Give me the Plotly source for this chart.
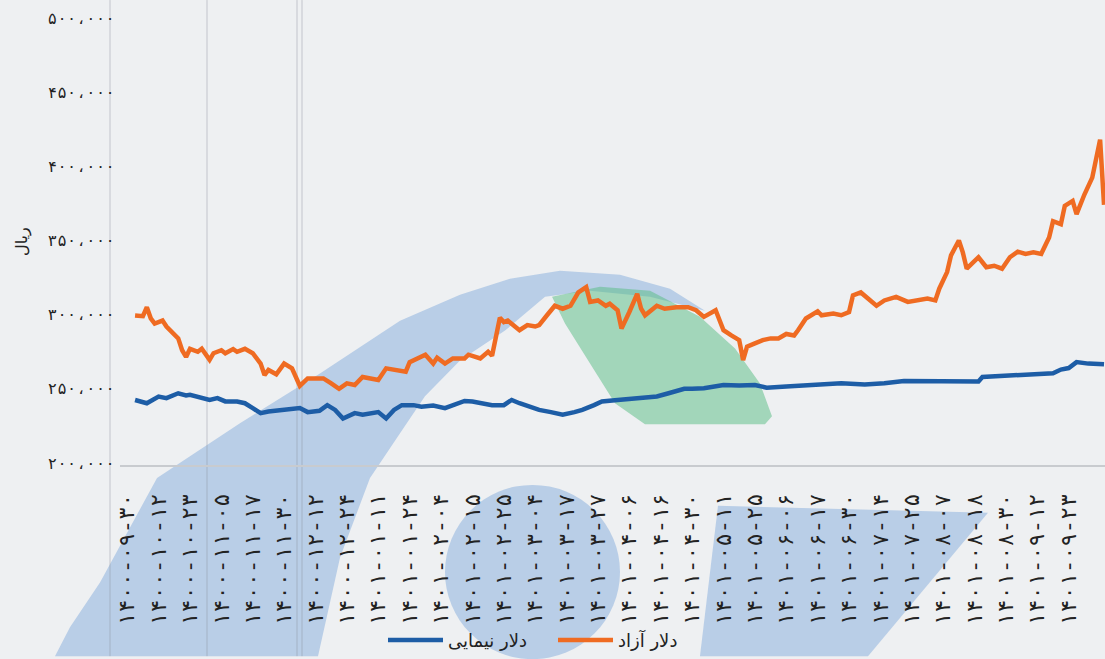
import plotly.graph_objects as go

# ---------------- data ----------------
tick_labels = ["۱۴۰۰-۰۹-۳۰", "۱۴۰۰-۱۰-۱۲", "۱۴۰۰-۱۰-۲۳", "۱۴۰۰-۱۱-۰۵", "۱۴۰۰-۱۱-۱۷",
               "۱۴۰۰-۱۱-۳۰", "۱۴۰۰-۱۲-۱۲", "۱۴۰۰-۱۲-۲۴", "۱۴۰۱-۰۱-۱۱", "۱۴۰۱-۰۱-۲۴",
               "۱۴۰۱-۰۲-۰۴", "۱۴۰۱-۰۲-۱۵", "۱۴۰۱-۰۲-۲۵", "۱۴۰۱-۰۳-۰۴", "۱۴۰۱-۰۳-۱۷",
               "۱۴۰۱-۰۳-۲۷", "۱۴۰۱-۰۴-۰۶", "۱۴۰۱-۰۴-۱۶", "۱۴۰۱-۰۴-۳۰", "۱۴۰۱-۰۵-۱۱",
               "۱۴۰۱-۰۵-۲۵", "۱۴۰۱-۰۶-۰۶", "۱۴۰۱-۰۶-۱۷", "۱۴۰۱-۰۶-۳۰", "۱۴۰۱-۰۷-۱۴",
               "۱۴۰۱-۰۷-۲۵", "۱۴۰۱-۰۸-۰۷", "۱۴۰۱-۰۸-۱۸", "۱۴۰۱-۰۸-۳۰", "۱۴۰۱-۰۹-۱۲",
               "۱۴۰۱-۰۹-۲۳"]
tick_positions = [0, 8, 16, 24, 32, 40, 48, 56, 64, 72, 80, 88, 96, 104, 112, 120,
                  128, 136, 144, 152, 160, 168, 176, 184, 192, 200, 208, 216, 224, 232, 240]

y_tick_values = [200000, 250000, 300000, 350000, 400000, 450000, 500000]
y_tick_labels = ["۲۰۰،۰۰۰", "۲۵۰،۰۰۰", "۳۰۰،۰۰۰", "۳۵۰،۰۰۰", "۴۰۰،۰۰۰", "۴۵۰،۰۰۰", "۵۰۰،۰۰۰"]

# free-market dollar (دلار آزاد), thousand rials, by trading-day index
free_idx = [2, 4, 5, 6, 7, 9, 10, 12, 13, 14, 15, 16, 18, 19, 21, 22, 24, 25, 27, 28,
            30, 32, 33, 34, 35, 36, 38, 40, 42, 43, 44, 46, 49, 50, 52, 54, 56, 58, 60, 63,
            64, 66, 69, 71, 72, 74, 76, 78, 79, 81, 83, 86, 87, 90, 92, 93, 94, 95, 96, 97,
            100, 102, 104, 105, 107, 109, 111, 113, 115, 117, 118, 120, 122, 123, 125, 126, 128, 130, 131, 132,
            135, 137, 140, 143, 145, 147, 150, 151, 152, 154, 156, 157, 158, 160, 162, 164, 166, 168, 170, 171,
            173, 176, 177, 180, 182, 184, 185, 187, 189, 191, 193, 196, 199, 202, 204, 206, 207, 209, 210, 212,
            213, 214, 217, 219, 221, 223, 225, 227, 229, 231, 233, 235, 236, 238, 239, 241, 242, 244, 246, 248,
            249]
free_val = [299.5, 299, 305, 297.5, 294, 296, 292, 286, 284, 276, 271.5, 277, 275, 277, 269.5, 274, 276, 274, 276.8, 275,
            277, 274, 270.5, 267, 259.3, 262.7, 259.8, 267, 263.8, 257, 252, 257, 257.5, 257, 253.7, 250, 253.7, 252.6, 258, 256,
            256, 263.8, 262.7, 261.6, 268, 270.5, 273, 267, 271, 267, 270.5, 270.5, 273, 270.5, 275, 272.3, 285, 298, 295, 296,
            289.5, 293, 292, 293, 299.6, 306, 304, 306, 315, 318.6, 308.6, 309.6, 306, 307.4, 303, 290.6, 301.8, 314, 304, 299.6,
            306, 304, 305, 305, 303, 298.5, 303, 296, 289.5, 286, 282.8, 269.4, 278.4, 280.6, 282.8, 284, 284, 287, 286, 289.5,
            297.4, 302.3, 299.6, 300.7, 299.6, 301.8, 313, 315, 310.8, 306, 309.6, 312, 308.6, 309.6, 310.8, 309.6, 317.5, 328.7, 340, 350,
            342, 331, 338.7, 332, 333, 331, 338.7, 342.5, 341, 342, 341, 352, 363, 361, 373.4, 376.7, 367.8, 381, 392.4, 418,
            374]

# NIMA dollar (دلار نیمایی), thousand rials
nima_idx = [2, 5, 8, 10, 13, 15, 16, 19, 21, 23, 25, 28, 30, 32, 34, 36, 39, 41, 44, 46,
            48, 49, 51, 53, 55, 58, 60, 64, 66, 68, 70, 73, 75, 78, 81, 83, 86, 88, 91, 93,
            96, 98, 100, 103, 105, 108, 111, 114, 116, 119, 121, 125, 128, 132, 135, 138, 142, 144, 147, 152,
            156, 160, 163, 168, 173, 177, 182, 188, 193, 198, 207, 217, 218, 222, 230, 236, 238, 240, 242, 245,
            249]
nima_val = [242.5, 240.3, 244.8, 243.7, 247, 245.5, 246, 243.7, 242.5, 243.7, 241.5, 241.5, 240.3, 237, 233.6, 234.7, 235.8, 236.5, 237, 234.3,
            234.7, 235.2, 239, 235.8, 230, 233.6, 232.5, 234.3, 230, 235.8, 239, 239, 238, 238.7, 237, 239, 241.8, 241.5, 240.3, 239,
            239, 242.5, 240.3, 238, 235.8, 234.3, 232.5, 234.3, 235.8, 239, 241.5, 242.5, 243, 243.7, 244.8, 247, 250, 250, 250.4, 252.6,
            252.2, 252.6, 250.8, 251.5, 252.2, 253, 253.7, 253, 253.7, 255.3, 255, 255, 258, 258.5, 259, 260.5, 263, 264, 268, 267,
            266.5]

free_name = "دلار آزاد"
nima_name = "دلار نیمایی"
y_title = "ریال"

# ---------------- layout helpers ----------------
W, H = 1105, 659
L, R, T, B = 120, 0, 18, 192
PW, PH = W - L - R, H - T - B


def px(x, y):
    return (x - L) / PW, (H - B - y) / PH


def path(points):
    pts = [px(x, y) for x, y in points]
    return "M " + " L ".join(f"{a:.4f},{b:.4f}" for a, b in pts) + " Z"


BLUE = "#1D5DA6"
ORANGE = "#EF6B22"
TXT = "#222222"

fig = go.Figure()
fig.add_trace(go.Scatter(x=nima_idx, y=[v * 1000 for v in nima_val], mode="lines",
                         name=nima_name, line=dict(color=BLUE, width=4.5)))
fig.add_trace(go.Scatter(x=free_idx, y=[v * 1000 for v in free_val], mode="lines",
                         name=free_name, line=dict(color=ORANGE, width=4.5)))

shapes = []
# watermark logo (background decoration)
arc = [(55, 659), (70, 630), (100, 585), (157, 480), (240, 425), (320, 375), (400, 322), (460, 296), (510, 280),
       (560, 272), (620, 276), (670, 290), (705, 312), (650, 298), (590, 292), (545, 298), (505, 332),
       (460, 362), (425, 398), (400, 435), (370, 480), (340, 560), (318, 659)]
shapes.append(dict(type="path", xref="paper", yref="paper", path=path(arc),
                   fillcolor="rgba(120,165,218,0.45)", line=dict(width=0), layer="below"))
green = [(552, 298), (600, 288), (650, 292), (700, 318), (735, 350), (760, 385), (772, 418), (765, 426),
         (645, 426), (615, 405), (590, 365), (565, 325)]
shapes.append(dict(type="path", xref="paper", yref="paper", path=path(green),
                   fillcolor="rgba(85,188,130,0.5)", line=dict(width=0), layer="below"))
cx0, cy0 = px(445, 487)
cx1, cy1 = px(620, 662)
shapes.append(dict(type="circle", xref="paper", yref="paper", x0=cx0, y0=cy1, x1=cx1, y1=cy0,
                   fillcolor="rgba(120,165,218,0.45)", line=dict(width=0), layer="below"))
para = [(718, 508), (988, 515), (868, 659), (700, 659)]
shapes.append(dict(type="path", xref="paper", yref="paper", path=path(para),
                   fillcolor="rgba(120,165,218,0.45)", line=dict(width=0), layer="below"))
# faint scan lines
for xv in (110, 207, 297, 302):
    a, _ = px(xv, 0)
    shapes.append(dict(type="line", xref="paper", yref="paper", x0=a, x1=a, y0=px(0, H)[1], y1=px(0, 0)[1],
                       line=dict(color="rgba(140,145,155,0.45)", width=1), layer="below"))

fig.update_layout(
    width=W, height=H,
    margin=dict(l=L, r=R, t=T, b=B),
    paper_bgcolor="#EEF0F2",
    plot_bgcolor="rgba(0,0,0,0)",
    font=dict(family="DejaVu Sans", color=TXT),
    shapes=shapes,
    showlegend=True,
    legend=dict(orientation="h", x=px(383, 0)[0], y=px(0, 643)[1], xanchor="left", yanchor="middle",
                font=dict(size=18, color=TXT), bgcolor="rgba(0,0,0,0)", itemwidth=55,
                entrywidth=100, entrywidthmode="pixels"),
    xaxis=dict(range=[-1.84, 249.25], tickmode="array", tickvals=tick_positions, ticktext=tick_labels,
               tickangle=-90, tickfont=dict(size=22, color=TXT, family="DejaVu Sans Mono"),
               showgrid=False, zeroline=False,
               showline=True, linecolor="#C8CBCF", linewidth=1.5, ticks="", ticklabelstandoff=18),
    yaxis=dict(range=[198650, 500000], tickmode="array", tickvals=y_tick_values, ticktext=y_tick_labels,
               tickfont=dict(size=16, color=TXT, family="DejaVu Sans Mono"), showgrid=False, zeroline=False,
               showline=False, ticks="", ticklabelstandoff=4),
    annotations=[dict(text=y_title, xref="paper", yref="paper", x=px(10, 0)[0], y=px(0, 243)[1],
                      showarrow=False, textangle=-90, font=dict(size=16, color=TXT))],
)

fig.write_html("out.html", config={"displayModeBar": False},
               post_script="document.body.style.margin='0';")
